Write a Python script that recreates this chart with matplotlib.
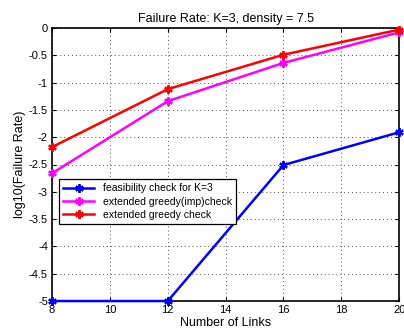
import matplotlib
matplotlib.use("Agg")
import matplotlib.pyplot as plt

plt.rcParams['font.family'] = ['Liberation Sans', 'DejaVu Sans']

links = [8, 12, 16, 20]
feasibility = [-5.0, -5.0, -2.51, -1.91]
greedy_imp = [-2.66, -1.34, -0.64, -0.08]
greedy = [-2.18, -1.12, -0.49, -0.03]

labels = ["feasibility check for K=3", "extended greedy(imp)check", "extended greedy check"]
colors = ["#0000ff", "#ff00ff", "#ff0000"]

fig = plt.figure(figsize=(4.04, 3.29), dpi=100)
ax = fig.add_axes([0.129, 0.085, 0.859, 0.83])

marker = (6, 2, 0)
for ys, lab, c in zip([feasibility, greedy_imp, greedy], labels, colors):
    ax.plot(links, ys, color=c, lw=1.8, marker=marker, ms=6, mew=1.6, label=lab,
            clip_on=False, zorder=3)

ax.set_xlim(8, 20)
ax.set_ylim(-5, 0)
ax.set_xticks([8, 10, 12, 14, 16, 18, 20])
ax.set_yticks([-5, -4.5, -4, -3.5, -3, -2.5, -2, -1.5, -1, -0.5, 0])
ax.set_yticklabels(["-5", "-4.5", "-4", "-3.5", "-3", "-2.5", "-2", "-1.5", "-1", "-0.5", "0"])
ax.tick_params(direction="in", labelsize=8, length=3, top=True, right=True, pad=3)
ax.grid(True, linestyle=(0, (1, 3)), color="#555555", lw=0.7)
for s in ax.spines.values():
    s.set_linewidth(1.2)

ax.set_title("Failure Rate: K=3, density = 7.5", fontsize=9, pad=4)
ax.set_xlabel("Number of Links", fontsize=9, labelpad=1)
ax.set_ylabel("log10(Failure Rate)", fontsize=9, labelpad=2)

leg = ax.legend(loc="upper left", bbox_to_anchor=(0.005, 0.465), fontsize=7.5,
                frameon=True, fancybox=False, edgecolor="black", framealpha=1,
                handlelength=3, borderpad=0.4, labelspacing=0.3)
leg.get_frame().set_linewidth(0.9)
leg.set_zorder(5)

plt.savefig("out.png", dpi=100)
